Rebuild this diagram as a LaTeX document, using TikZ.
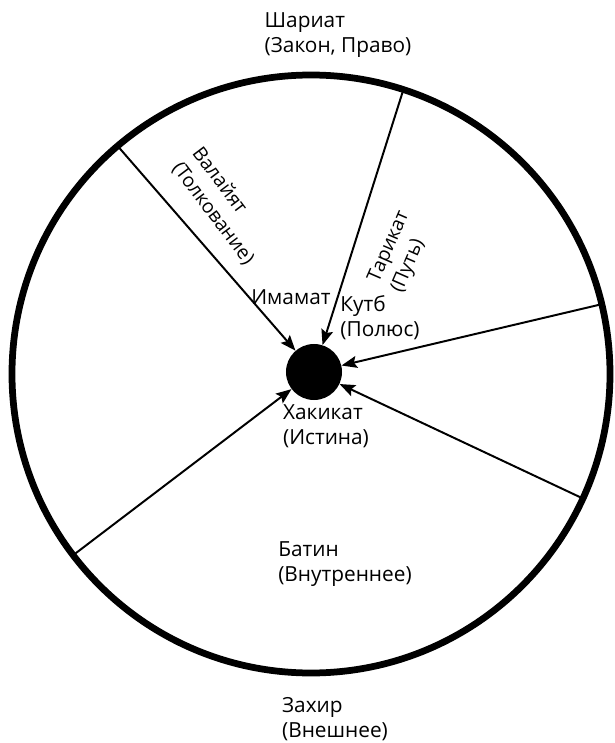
\documentclass[tikz,border=0pt]{standalone}
\usepackage{fontspec}
\setmainfont{Open Sans}
\usetikzlibrary{positioning, arrows.meta}
\definecolor{ink}{RGB}{0,0,0}
\tikzset{
  rim/.style={draw=ink, line width=4.8pt},
  hub/.style={circle, fill=ink, minimum size=1.4cm, inner sep=0pt},
  spoke/.style={draw=ink, line width=1.4pt, -{Stealth[length=11pt, width=8.5pt, inset=2pt]}},
  lbl/.style={align=left, inner sep=0pt, text=ink, font=\fontsize{14.8}{17.8}\selectfont},
  slbl/.style={lbl, font=\fontsize{13.8}{17.8}\selectfont}
}
\begin{document}
\begin{tikzpicture}[x=0.025cm, y=0.025cm]
  \useasboundingbox (-312,-370) rectangle (303,373);
  % outer circle and centre
  \coordinate (O) at (-1,-1);
  \draw[rim] (O) circle (299);
  \node[hub] (dot) at (2,1) {};
  % points on the rim
  \path (O) ++(130.3:299) coordinate (p1);
  \path (O) ++(72:299) coordinate (p2);
  \path (O) ++(13.5:299) coordinate (p3);
  \path (O) ++(-24.6:299) coordinate (p4);
  \path (O) ++(217.3:299) coordinate (p5);
  \foreach \p in {p1,p2,p3,p4,p5}{
    \draw[spoke] (\p) -- (dot);
  }
  % labels
  \node[lbl] (sharia) at (26,338) {Шариат\\(Закон, Право)};
  \node[lbl] (zahir) at (23,-346) {Захир\\(Внешнее)};
  \node[lbl] (batin) at (33,-191) {Батин\\(Внутреннее)};
  \node[lbl] (haqiqa) at (14,-53) {Хакикат\\(Истина)};
  \node[lbl] (imamat) at (-21,76) {Имамат};
  \node[lbl] (qutb) at (68,55) {Кутб\\(Полюс)};
  \node[slbl, rotate=-53] (walaya) at (-89,167) {Валайят\\(Толкование)};
  \node[slbl, rotate=66.5] (tariqa) at (89,121) {Тарикат\\(Путь)};
\end{tikzpicture}
\end{document}
